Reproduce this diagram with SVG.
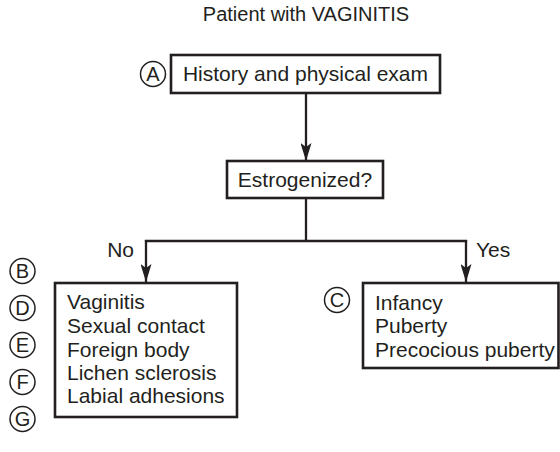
<svg xmlns="http://www.w3.org/2000/svg" width="560" height="452" viewBox="0 0 560 452">
  <style>
    text { font-family: "Liberation Sans", Arial, sans-serif; fill: #231f20; }
    .box { fill: #ffffff; stroke: #231f20; stroke-width: 2.6; }
    .tag { fill: #ffffff; stroke: #231f20; stroke-width: 1.5; }
    .lbl { font-size: 21px; }
    .tagtxt { font-size: 20px; text-anchor: middle; }
    .wire { fill: none; stroke: #231f20; stroke-width: 2.3; }
  </style>
  <defs>
    <!-- slim arrowhead with a shallow notch at the back -->
    <marker id="head" viewBox="0 0 18 11" refX="18" refY="5.5" markerWidth="18" markerHeight="11" markerUnits="userSpaceOnUse" orient="auto">
      <path d="M0,0 L18,5.5 L0,11 L4,5.5 Z" fill="#231f20"/>
    </marker>
  </defs>

  <rect width="560" height="452" fill="#ffffff"/>

  <text id="title" x="306" y="21" font-size="20" text-anchor="middle">Patient with VAGINITIS</text>

  <g id="connectors">
    <line class="wire" x1="306" y1="93" x2="306" y2="161" marker-end="url(#head)"/>
    <line class="wire" x1="306" y1="198" x2="306" y2="241"/>
    <line class="wire" x1="144.85" y1="241" x2="467.15" y2="241"/>
    <line class="wire" x1="146" y1="240" x2="146" y2="282" marker-end="url(#head)"/>
    <line class="wire" x1="466" y1="240" x2="466" y2="282" marker-end="url(#head)"/>
    <text class="lbl" x="134" y="257" text-anchor="end">No</text>
    <text class="lbl" x="476" y="257">Yes</text>
  </g>

  <g id="history">
    <rect class="box" x="171" y="55" width="269" height="38"/>
    <text class="lbl" x="305.5" y="81" text-anchor="middle">History and physical exam</text>
  </g>
  <g id="tag-a">
    <circle class="tag" cx="153" cy="74" r="12.5"/>
    <text class="tagtxt" x="153" y="81">A</text>
  </g>

  <g id="estrogenized">
    <rect class="box" x="227" y="161" width="156" height="37"/>
    <text class="lbl" x="305" y="187" text-anchor="middle">Estrogenized?</text>
  </g>

  <g id="not-estrogenized">
    <rect class="box" x="55" y="283" width="182" height="134"/>
    <text class="lbl" x="67" y="309">Vaginitis</text>
    <text class="lbl" x="67" y="333">Sexual contact</text>
    <text class="lbl" x="67" y="357">Foreign body</text>
    <text class="lbl" x="67" y="380">Lichen sclerosis</text>
    <text class="lbl" x="67" y="403">Labial adhesions</text>
  </g>
  <g id="tags-left">
    <circle class="tag" cx="22.5" cy="271" r="12.5"/>
    <text class="tagtxt" x="22.5" y="278">B</text>
    <circle class="tag" cx="22.5" cy="308" r="12.5"/>
    <text class="tagtxt" x="22.5" y="315">D</text>
    <circle class="tag" cx="22.5" cy="345" r="12.5"/>
    <text class="tagtxt" x="22.5" y="352">E</text>
    <circle class="tag" cx="22.5" cy="382" r="12.5"/>
    <text class="tagtxt" x="22.5" y="389">F</text>
    <circle class="tag" cx="22.5" cy="419" r="12.5"/>
    <text class="tagtxt" x="22.5" y="426">G</text>
  </g>

  <g id="estrogenized-yes">
    <rect class="box" x="363" y="283" width="195.5" height="85"/>
    <text class="lbl" x="375" y="310">Infancy</text>
    <text class="lbl" x="375" y="333">Puberty</text>
    <text class="lbl" x="375" y="357">Precocious puberty</text>
  </g>
  <g id="tag-c">
    <circle class="tag" cx="337" cy="300" r="12.5"/>
    <text class="tagtxt" x="337" y="307">C</text>
  </g>
</svg>
